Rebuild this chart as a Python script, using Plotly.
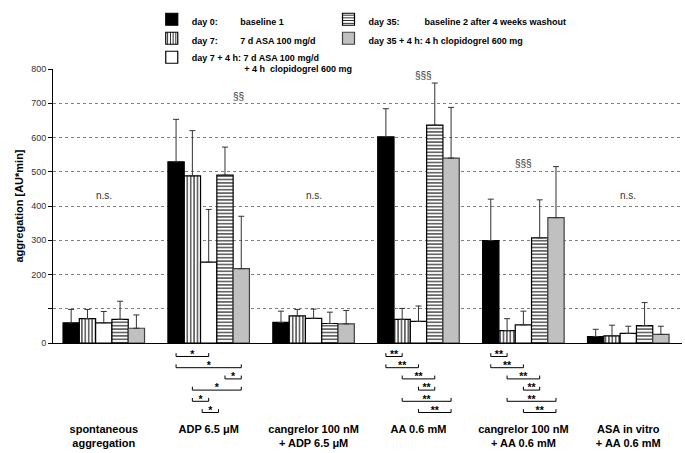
import plotly.graph_objects as go

# ---------------- data ----------------
categories = [
    "spontaneous<br>aggregation",
    "ADP 6.5 μM",
    "cangrelor 100 nM<br>+ ADP 6.5 μM",
    "AA 0.6 mM",
    "cangrelor 100 nM<br>+ AA 0.6 mM",
    "ASA in vitro<br>+ AA 0.6 mM",
]

NB = "\u00a0"
series_names = [
    "day 0:" + NB * 9 + "baseline 1",
    "day 7:" + NB * 9 + "7 d ASA 100 mg/d",
    "day 7 + 4 h: 7 d ASA 100 mg/d<br>" + NB * 21 + "+ 4 h" + NB * 2 + "clopidogrel 600 mg",
    "day 35:" + NB * 10 + "baseline 2 after 4 weeks washout",
    "day 35 + 4 h: 4 h clopidogrel 600 mg",
]

day0_mean = [59, 529, 60, 602, 299, 19]
day0_sd = [39, 124, 33, 82, 121, 21]
day7_mean = [71, 488, 79, 69, 36, 21]
day7_sd = [27, 132, 19, 32, 35, 31]
day7_4h_mean = [59, 236, 72, 63, 53, 28]
day7_4h_sd = [33, 154, 27, 45, 40, 21]
day35_mean = [69, 490, 57, 636, 307, 51]
day35_sd = [53, 82, 33, 123, 111, 67]
day35_4h_mean = [43, 217, 56, 540, 366, 25]
day35_4h_sd = [39, 153, 39, 148, 149, 24]

y_tick_values = [0, 100, 200, 300, 400, 500, 600, 700, 800]
y_tick_labels = ["0", "", "200", "300", "400", "500", "600", "700", "800"]

# significance brackets below the axis: group, from bar, to bar, level, label
bracket_group = [1, 1, 1, 1, 1, 1, 3, 3, 3, 3, 3, 3, 4, 4, 4, 4, 4, 4]
bracket_from = [0, 0, 3, 1, 1, 1.6, 0, 0, 1, 2, 1, 2, 0, 0, 1, 2, 1, 2]
bracket_to = [2, 4, 4, 4, 2, 2.6, 1, 2, 3, 3, 4, 4, 1, 2, 3, 3, 4, 4]
bracket_level = [1, 2, 3, 4, 5, 6] * 3
bracket_label = ["*"] * 6 + ["**"] * 6 + ["**"] * 6

# texts above the groups
note_text = ["n.s.", "§§", "n.s.", "§§§", "§§§", "n.s."]
note_group = [0, 1, 2, 3, 4, 5]
note_value = [430, 720, 430, 782, 523, 430]
note_dx = [0, 0.28, 0, 0.05, 0, 0]

# ---------------- figure ----------------
FONT = "Liberation Sans, Arial, sans-serif"
BARGAP = 0.223
x_idx = list(range(len(categories)))

means = [day0_mean, day7_mean, day7_4h_mean, day35_mean, day35_4h_mean]
sds = [day0_sd, day7_sd, day7_4h_sd, day35_sd, day35_4h_sd]
fills = ["black", "white", "white", "white", "#c0c0c0"]
patterns = ["", "|", "", "-", ""]
outlines = ["black", "black", "black", "black", "#404040"]
legends = ["legend", "legend", "legend", "legend2", "legend2"]

fig = go.Figure()
for k in range(5):
    fig.add_trace(go.Bar(
        x=x_idx, y=means[k], name=series_names[k], legend=legends[k],
        marker=dict(
            color=fills[k],
            line=dict(color=outlines[k], width=1.2),
            pattern=dict(shape=patterns[k], fgcolor="black", bgcolor=fills[k],
                         size=3.4, solidity=0.3, fillmode="replace"),
        ),
        error_y=dict(type="data", array=sds[k], arrayminus=[0] * len(sds[k]),
                     symmetric=False, color="#333333", thickness=1, width=3),
    ))

n_series = 5
bar_w = (1 - BARGAP) / n_series


def bar_center(g, j):
    return g + (j - (n_series - 1) / 2) * bar_w


bx, by, tx, ty, tt = [], [], [], [], []
TICK = 0.3
for g, a, b, lv, lab in zip(bracket_group, bracket_from, bracket_to, bracket_level, bracket_label):
    x1, x2 = bar_center(g, a), bar_center(g, b)
    bx += [x1, x1, x2, x2, None]
    by += [lv - TICK, lv, lv, lv - TICK, None]
    tx.append((x1 + x2) / 2)
    ty.append(lv - 0.12)
    tt.append(lab)

fig.add_trace(go.Scatter(x=bx, y=by, xaxis="x", yaxis="y2", mode="lines",
                         line=dict(color="black", width=1), showlegend=False,
                         hoverinfo="skip"))
fig.add_trace(go.Scatter(x=tx, y=ty, xaxis="x", yaxis="y2", mode="text", text=tt,
                         textposition="middle center",
                         textfont=dict(family=FONT, size=10.5, color="black", weight="bold"),
                         showlegend=False, hoverinfo="skip"))

for t, g, v, dx in zip(note_text, note_group, note_value, note_dx):
    fig.add_annotation(x=g + dx, y=v, xref="x", yref="y", text=t, showarrow=False,
                       font=dict(family=FONT, size=10, color="#333333"))

MAIN_BOTTOM = 0.2149
fig.update_layout(
    width=685, height=453,
    margin=dict(l=53, r=3, t=69, b=35),
    paper_bgcolor="white", plot_bgcolor="white",
    font=dict(family=FONT, color="black"),
    barmode="group", bargap=BARGAP, bargroupgap=0,
    showlegend=True,
    legend=dict(x=0.157, y=1.178, xanchor="left", yanchor="top", orientation="v",
                valign="top", bgcolor="rgba(0,0,0,0)",
                font=dict(family=FONT, size=9, color="black", weight="bold")),
    legend2=dict(x=0.438, y=1.178, xanchor="left", yanchor="top", orientation="v",
                 valign="top", bgcolor="rgba(0,0,0,0)",
                 font=dict(family=FONT, size=9, color="black", weight="bold")),
    xaxis=dict(range=[-0.484, 5.512], tickvals=x_idx, ticktext=categories,
               showline=True, linecolor="black", linewidth=1, ticks="",
               showgrid=False, zeroline=False, anchor="y", automargin=False,
               ticklabelstandoff=76,
               tickfont=dict(family=FONT, size=11, color="black", weight="bold")),
    yaxis=dict(domain=[MAIN_BOTTOM, 1], range=[0, 800], tickvals=y_tick_values,
               ticktext=y_tick_labels, ticks="outside", ticklen=4, tickcolor="black",
               showline=True, linecolor="black", linewidth=1,
               showgrid=True, gridcolor="#7f7f7f", griddash="dot", gridwidth=1,
               zeroline=False, automargin=False,
               tickfont=dict(family=FONT, size=9, color="#333333"),
               title=dict(text="aggregation [AU*min]", standoff=5,
                          font=dict(family=FONT, size=11, color="black", weight="bold"))),
    yaxis2=dict(domain=[0, 0.2], range=[6.49, 0.26], visible=False, anchor="x",
                fixedrange=True),
)

fig.write_html("out.html", config={"displayModeBar": False},
               post_script="document.body.style.margin='0';")
